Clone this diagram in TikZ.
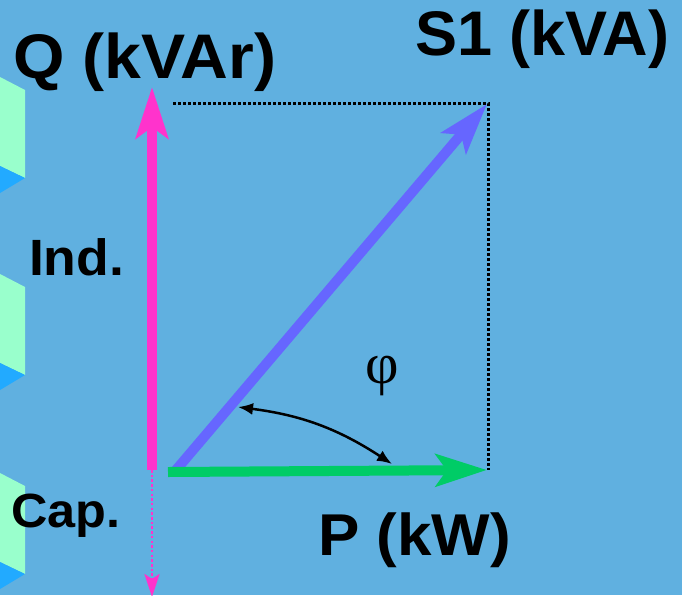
\documentclass[tikz,border=0pt]{standalone}
\usepackage{fontspec}
\setmainfont{Liberation Sans}
\newfontfamily\lblfont[FakeStretch=1.05]{Liberation Sans}
\newfontfamily\serifphi{Liberation Serif}
\usetikzlibrary{arrows.meta}
\definecolor{bgblue}{RGB}{96,176,224}
\definecolor{qpink}{RGB}{255,51,204}
\definecolor{spurple}{RGB}{102,102,255}
\definecolor{pgreen}{RGB}{0,204,102}
\definecolor{mint}{RGB}{153,255,204}
\definecolor{tblue}{RGB}{34,170,255}
\tikzset{
  lbl/.style={inner sep=0pt, outer sep=0pt, anchor=base west, text=black},
  vec/.style={line width=10pt, -{Stealth[length=51pt,width=32pt,inset=11pt]}},
  guide/.style={line width=3pt, dash pattern=on 3pt off 2pt, black},
  anglearc/.style={line width=2.5pt, black, {Latex[length=15pt,width=12pt]}-{Latex[length=15pt,width=12pt]}},
  mintface/.style={fill=mint, draw=none},
  blueface/.style={fill=tblue, draw=none}
}
\begin{document}
\begin{tikzpicture}[x=1pt,y=-1pt]
\fill[bgblue] (0,0) rectangle (682,595);
\useasboundingbox (0,0) rectangle (682,595);
% left decorations
\foreach \dy in {0,197,396}{
  \fill[mintface] (0,77+\dy) -- (25,90+\dy) -- (25,178+\dy) -- (0,166+\dy) -- cycle;
  \fill[blueface] (0,166+\dy) -- (25,178+\dy) -- (0,193+\dy) -- cycle;
}
% key points
\coordinate (qbase) at (152,470);
\coordinate (qtip) at (152,87);
\coordinate (qdown) at (152,597);
\coordinate (sbase) at (176,470);
\coordinate (stip) at (487,104);
\coordinate (pbase) at (168,472);
\coordinate (ptip) at (487,470);
\coordinate (gstart) at (173,103);
\coordinate (corner) at (488,103);
\coordinate (gend) at (488,470);
\coordinate (a1) at (238,407);
\coordinate (a2) at (392,464);
% guides
\draw[guide] (gstart) -- (corner) -- (gend);
% Q arrow
\draw[line width=2.5pt, qpink, dash pattern=on 2.5pt off 2.2pt, -{Stealth[length=23pt,width=15pt,inset=5pt]}] (qbase) -- (qdown);
\draw[vec, qpink] (qbase) -- (qtip);
% S arrow
\draw[vec, spurple] (sbase) -- (stip);
% P arrow
\draw[vec, pgreen] (pbase) -- (ptip);
% angle
\draw[anglearc] (a1) .. controls (300,415) and (337,428) .. (a2);
% labels
\node[lbl, font=\lblfont\bfseries\fontsize{63}{63}\selectfont] (qlab) at (13,78) {Q (kVAr)};
\node[lbl, font=\bfseries\fontsize{63}{63}\selectfont] (slab) at (415,55) {S1 (kVA)};
\node[lbl, font=\lblfont\bfseries\fontsize{51}{51}\selectfont] (ind) at (29,275) {Ind.};
\node[lbl, font=\lblfont\bfseries\fontsize{48}{48}\selectfont] (cap) at (11,527) {Cap.};
\node[lbl, font=\lblfont\bfseries\fontsize{59}{59}\selectfont] (plab) at (318,555) {P (kW)};
\node[inner sep=0pt, font=\serifphi\fontsize{58}{58}\selectfont] (phi) at (382,376) {φ};
\end{tikzpicture}
\end{document}
